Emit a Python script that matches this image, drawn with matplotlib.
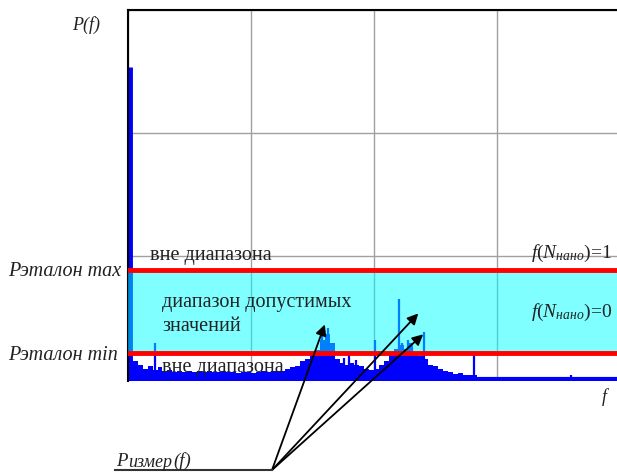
import matplotlib.pyplot as plt
import numpy as np

plt.rcParams['font.family'] = ['Liberation Serif', 'DejaVu Serif']
plt.rcParams['mathtext.fontset'] = 'custom'
plt.rcParams['mathtext.it'] = 'Liberation Serif:italic'
plt.rcParams['mathtext.rm'] = 'Liberation Serif'

# нижний "шум" спектра: шаг 0.04 по f, высота в единицах P
noise_step = 0.04
noise = [0.16, 0.145, 0.11, 0.08, 0.10, 0.07, 0.09, 0.065, 0.07, 0.056,
         0.065, 0.056, 0.06, 0.05, 0.065, 0.055, 0.06, 0.05, 0.056, 0.06,
         0.05, 0.055, 0.048, 0.056, 0.05, 0.048, 0.056, 0.06, 0.056, 0.06,
         0.065, 0.065, 0.075, 0.09, 0.105, 0.14, 0.16, 0.19, 0.23, 0.31,
         0.36, 0.29, 0.16, 0.13, 0.11, 0.13, 0.11, 0.10, 0.08, 0.07,
         0.08, 0.11, 0.145, 0.19, 0.24, 0.27, 0.24, 0.29, 0.21, 0.18,
         0.16, 0.11, 0.10, 0.08, 0.065, 0.05, 0.04, 0.048, 0.03, 0.03,
         0.025]
noise_f = np.arange(len(noise)) * noise_step

# отдельные пики
spike_f = [0.014, 0.22, 1.58, 1.63, 1.76, 1.80, 1.85, 2.01, 2.20, 2.23,
           2.28, 2.31, 2.41, 2.81, 3.60]
spike_p = [2.54, 0.29, 0.39, 0.41, 0.17, 0.19, 0.15, 0.31, 0.65, 0.29,
           0.31, 0.25, 0.38, 0.19, 0.03]
spike_w = [3.5] + [1.6] * (len(spike_f) - 1)

p_min = 0.21
p_max = 0.88

# точки, куда указывают стрелки
arrow_f = [1.60, 2.36, 2.40]
arrow_p = [0.44, 0.53, 0.36]

W, H = 617, 474
fig = plt.figure(figsize=(W / 100, H / 100), dpi=100)
ax = fig.add_axes([128 / W, 93 / H, 492 / W, 371 / H])

def fx(x, y):
    return x / W, 1 - y / H

# спектр
ax.bar(noise_f, noise, width=noise_step, align='edge', color='#0000ff',
       linewidth=0, zorder=2)
ax.vlines(spike_f, 0, spike_p, color='#0000ff', linewidths=spike_w, zorder=2)
ax.axhline(0.0, color='#0000ff', linewidth=3, zorder=2)

# диапазон допустимых значений
ax.axhspan(p_min, p_max, color='#00ffff', alpha=0.5, linewidth=0, zorder=3)
ax.axhline(p_min, color='red', linewidth=3.5, zorder=4)
ax.axhline(p_max, color='red', linewidth=3.5, zorder=4)

ax.set_xlim(0, 4)
ax.set_ylim(-0.02, 3)
ax.set_xticks([0, 1, 2, 3, 4])
ax.set_yticks([0, 1, 2, 3])
ax.grid(True, color='#a0a0a0', linewidth=1)
ax.set_axisbelow(True)
ax.tick_params(length=0, labelbottom=False, labelleft=False)
ax.spines['right'].set_visible(False)
ax.spines['bottom'].set_visible(False)
ax.spines['top'].set_linewidth(1.5)
ax.spines['left'].set_linewidth(1.5)

txt = dict(fontsize=14.5, color='#222222')
ax.text(0.18, 1.0, 'вне диапазона', va='center', **txt)
ax.text(0.28, 0.52, 'диапазон допустимых\nзначений', va='center',
        linespacing=1.4, zorder=5, **txt)
ax.text(0.28, 0.09, 'вне диапазона', va='center', zorder=5, **txt)

fig.text(*fx(612, 253), r'$f(N_{нано})$=1', ha='right', va='center',
         fontsize=14, color='#222222')
fig.text(*fx(612, 312), r'$f(N_{нано})$=0', ha='right', va='center',
         fontsize=14, color='#222222')

fig.text(*fx(8, 272), 'Рэталон max', style='italic', va='center',
         fontsize=14.5, color='#222222')
fig.text(*fx(8, 355), 'Рэталон min', style='italic', va='center',
         fontsize=14.5, color='#222222')
fig.text(*fx(72, 25), 'P(f)', style='italic', va='center', fontsize=13,
         color='#222222')
fig.text(*fx(602, 397), 'f', style='italic', va='center', fontsize=13,
         color='#222222')

# подпись P_измер(f) из трёх частей, одна за другой
renderer = fig.canvas.get_renderer()
x0 = 116
for part, size, dy in [('P', 13.5, 0), ('измер', 13, 1), ('(f)', 13.5, 0)]:
    t = fig.text(*fx(x0, 466 + dy), part, style='italic', va='baseline',
                 fontsize=size, color='#222222')
    x0 = t.get_window_extent(renderer).x1 + 1

# линия подписи и стрелки
fig.add_artist(plt.Line2D([115 / W, 272 / W], [4 / H, 4 / H], color='#333333',
                          linewidth=1.5))
for f0, p0 in zip(arrow_f, arrow_p):
    ax.annotate('', xy=(f0, p0), xytext=(272, 4), textcoords='figure pixels',
                annotation_clip=False, zorder=6,
                arrowprops=dict(arrowstyle='-|>', color='black', lw=1.3,
                                mutation_scale=16, shrinkA=0, shrinkB=0))

fig.savefig('out.png', dpi=100)
